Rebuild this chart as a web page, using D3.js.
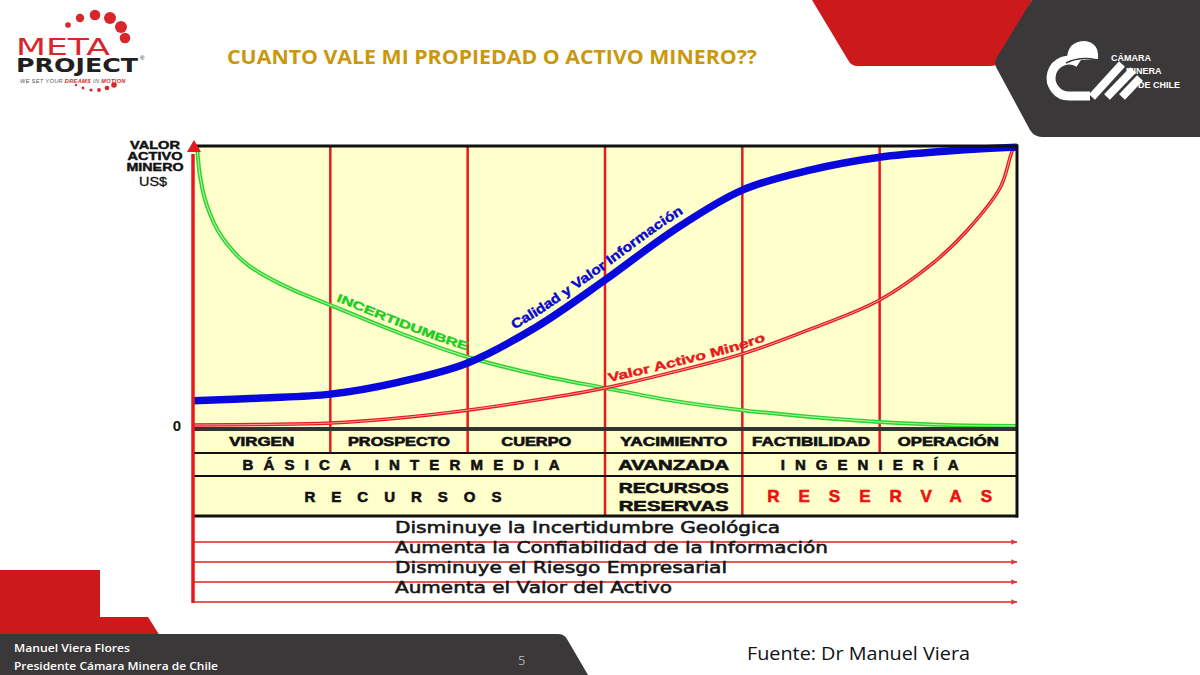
<!DOCTYPE html>
<html><head><meta charset="utf-8">
<script src="https://cdn.jsdelivr.net/npm/d3@7"></script>
<style>html,body{margin:0;padding:0;background:#fff}svg{display:block}</style>
</head><body>
<svg id="c" width="1200" height="675"></svg>
<script>
// ---------------- DATA ----------------
const title = "CUANTO VALE MI PROPIEDAD O ACTIVO MINERO??";
const stages = ["VIRGEN","PROSPECTO","CUERPO","YACIMIENTO","FACTIBILIDAD","OPERACIÓN"];
const yTicks = [0];
const yAxisTitle = ["VALOR","ACTIVO","MINERO"];
const yAxisUnit = "US$";
const row2Labels = [
  {text:"BÁSICA  INTERMEDIA", from:0, to:3, spaced:true},
  {text:"AVANZADA", from:3, to:4, spaced:false},
  {text:"INGENIERÍA", from:4, to:6, spaced:true}
];
const row3Labels = [
  {text:["RECURSOS"], from:0, to:3, spaced:true, red:false},
  {text:["RECURSOS","RESERVAS"], from:3, to:4, spaced:false, red:false},
  {text:["RESERVAS"], from:4, to:6, spaced:true, red:true}
];
const arrowTexts = [
  "Disminuye la Incertidumbre Geológica",
  "Aumenta la Confiabilidad de la Información",
  "Disminuye el Riesgo Empresarial",
  "Aumenta el Valor del Activo"
];
// series (x in stage units 0..6, y in 0..100 relative value)
const calidadX = [0,0.5,1,1.5,2,2.5,3,3.5,4,4.5,5,5.5,6];
const calidadY = [9.3,10.3,11.7,16,22.8,35.6,52.3,70,84.3,91.5,96,98.2,99.6];
const incertX  = [0.029,0.051,0.087,0.124,0.182,0.248,0.364,0.488,0.728,1,1.5,2,2.5,3,3.5,4,4.5,5,5.5,6];
const incertY  = [100,89.3,81.1,75.8,69.8,65.1,59.1,54.8,48.8,43.4,33.5,24.9,18.7,13.9,9.3,6,3.6,1.8,0.7,0.4];
const valorX   = [0,0.5,1,1.5,2,2.5,3,3.5,4,4.5,5,5.39,5.64,5.88,5.97,6];
const valorY   = [0.7,0.9,1.4,3.2,6,9.6,13.9,19.6,26,34.9,45.2,58.4,70.1,85.4,98.6,100];
const curveLabels = ["INCERTIDUMBRE","Calidad y Valor Información","Valor Activo Minero"];
const footerName = ["Manuel Viera Flores","Presidente Cámara Minera de Chile"];
const pageNumber = "5";
const source = "Fuente: Dr Manuel Viera";

// ---------------- LAYOUT ----------------
const svg = d3.select("#c");
const BOLD = "'Liberation Sans', Arial, sans-serif";
const x = d3.scaleLinear().domain([0,6]).range([193,1017]);
const y = d3.scaleLinear().domain([0,100]).range([427,146]);
const rows = {r1:[429,453], r2:[453,476], r3:[476,516]};
const arrowY = [542,562,582,602];

function fit(sel, w, adj){ sel.attr("textLength", w).attr("lengthAdjust", adj||"spacingAndGlyphs"); return sel; }

// ---------- decorative header ----------
svg.append("path").attr("d","M812,0 L1032,0 L1000,62 Q997,66 990,66 L858,66 Q851,66 848,60 Z").attr("fill","#cc1a1c");
svg.append("path").attr("d","M1032,0 L1200,0 L1200,137 L1042,137 Q1034,137 1030,130 L996,67 Q994,62 997,57 Z").attr("fill","#3b3839");
// Camara logo
const lg = svg.append("g").attr("fill","none").attr("stroke","#fff");
lg.append("path").attr("d","M1079,63 A18,18 0 1 0 1070,96 L1090,96").attr("stroke-width",9).attr("stroke-linecap","butt");
lg.append("path").attr("d","M1068,60 Q1068,42 1085,42 Q1098,44 1097,58 Z").attr("fill","#fff").attr("stroke-width",2);
lg.append("path").attr("d","M1066,63 Q1080,56 1097,60").attr("stroke","#3b3839").attr("stroke-width",1.5);
[[1092,97,1122,64],[1107,97,1133,70],[1122,97,1140,78]].forEach(b=>{
  lg.append("line").attr("x1",b[0]).attr("y1",b[1]).attr("x2",b[2]).attr("y2",b[3]).attr("stroke-width",8);
});
[["CÁMARA",1111,61],["MINERA",1126,74],["DE CHILE",1138,88]].forEach(t=>{
  svg.append("text").attr("x",t[1]).attr("y",t[2]).text(t[0]).attr("fill","#fff")
    .attr("font-family",BOLD).attr("font-weight","bold").attr("font-size",9);
});

// Meta Project logo
[[68,25,2.8],[80,18,4.2],[95,15,5.3],[110,18,6],[121,27,6],[125,38,5.3]].forEach(d=>
  svg.append("circle").attr("cx",d[0]).attr("cy",d[1]).attr("r",d[2]).attr("fill","#d8262b"));
[[76,85,1.2],[83,88,1.4],[91,90,1.6],[99,90,1.9],[107,88,2.3],[114,85,2.8]].forEach(d=>
  svg.append("circle").attr("cx",d[0]).attr("cy",d[1]).attr("r",d[2]).attr("fill","#d8262b"));
fit(svg.append("text").attr("x",16).attr("y",55).text("META").attr("fill","#d8262b")
  .attr("font-family","'DejaVu Sans', sans-serif").attr("font-size",23), 94);
fit(svg.append("text").attr("x",16).attr("y",72).text("PROJECT").attr("fill","#231f20")
  .attr("font-family","'DejaVu Sans', sans-serif").attr("font-weight","bold").attr("font-size",19), 122);
svg.append("text").attr("x",140).attr("y",60).text("®").attr("font-size",6).attr("fill","#231f20").attr("font-family",BOLD);
const tag = svg.append("text").attr("x",20).attr("y",82.5).attr("font-family",BOLD).attr("font-size",5.6).attr("font-style","italic").attr("letter-spacing",0.35);
[["WE SET YOUR ","#555",""],["DREAMS","#d8262b","bold"],[" IN ","#555",""],["MOTION","#d8262b","bold"]].forEach(p=>
  tag.append("tspan").text(p[0]).attr("fill",p[1]).attr("font-weight",p[2]||null));

// title
fit(svg.append("text").attr("x",227).attr("y",64).text(title).attr("fill","#c9980c")
  .attr("font-family","'Open Sans', sans-serif").attr("font-weight",700).attr("font-size",19), 530);

// footer decorations
svg.append("path").attr("d","M0,570 L100,570 L100,617 L148,617 L160,636 L0,636 Z").attr("fill","#cc1a1c");
svg.append("path").attr("d","M0,634 L558,634 Q564,634 567,639 L588,675 L0,675 Z").attr("fill","#3b3839");
svg.append("text").attr("x",14).attr("y",652).text(footerName[0]).attr("fill","#fff")
  .attr("font-family","'Open Sans', sans-serif").attr("font-weight",600).attr("font-size",11.5).call(s=>fit(s,116));
svg.append("text").attr("x",14).attr("y",670).text(footerName[1]).attr("fill","#fff")
  .attr("font-family","'Open Sans', sans-serif").attr("font-weight",600).attr("font-size",11.5).call(s=>fit(s,204));
svg.append("text").attr("x",518).attr("y",665).text(pageNumber).attr("fill","#aaa")
  .attr("font-family","'Open Sans', sans-serif").attr("font-size",13);
svg.append("text").attr("x",747).attr("y",660).text(source).attr("fill","#111")
  .attr("font-family","'Open Sans', sans-serif").attr("font-size",18).call(s=>fit(s,223));

// ---------- chart background ----------
svg.append("rect").attr("x",x(0)).attr("y",y(100)).attr("width",x(6)-x(0)).attr("height",rows.r3[1]-y(100)).attr("fill","#ffffcc");

// stage boundaries
const bounds = d3.range(1,6);
svg.selectAll("line.sb").data(bounds).join("line")
  .attr("x1",d=>x(d)).attr("x2",d=>x(d)).attr("y1",y(100))
  .attr("y2",d=> (d===3||d===4) ? rows.r3[1] : rows.r1[1])
  .attr("stroke","#e8191e").attr("stroke-width",2.5);

// ---------- curves ----------
const line = d3.line().x(d=>x(d[0])).y(d=>y(d[1])).curve(d3.curveCatmullRom.alpha(0.5));
const incert = incertX.map((v,i)=>[v,incertY[i]]);
const valor = valorX.map((v,i)=>[v,valorY[i]]);
const calidad = calidadX.map((v,i)=>[v,calidadY[i]]);
svg.append("path").attr("id","pInc").attr("d",line(incert)).attr("fill","none").attr("stroke","#2fd12f").attr("stroke-width",4);
svg.append("path").attr("d",line(incert)).attr("fill","none").attr("stroke","#a8f5a0").attr("stroke-width",1.1);
svg.append("path").attr("id","pVal").attr("d",line(valor)).attr("fill","none").attr("stroke","#e8191e").attr("stroke-width",3.5);
svg.append("path").attr("d",line(valor)).attr("fill","none").attr("stroke","#f6a0a0").attr("stroke-width",1);
svg.append("path").attr("id","pCal").attr("d",line(calidad)).attr("fill","none").attr("stroke","#0808dd").attr("stroke-width",7.5);

function lenAtX(node, px){
  let lo=0, hi=node.getTotalLength();
  for(let i=0;i<40;i++){ const m=(lo+hi)/2; if(node.getPointAtLength(m).x<px) lo=m; else hi=m; }
  return lo;
}
const labelCfg = [
  {path:"pInc", text:curveLabels[0], startX:334, dy:-6, size:11.5, w:140, color:"#22cc22"},
  {path:"pCal", text:curveLabels[1], startX:519, dy:-9, size:13.5, w:206, color:"#0808cc"},
  {path:"pVal", text:curveLabels[2], startX:610, dy:-5, size:12.5, w:163, color:"#e8191e"}
];
labelCfg.forEach(c=>{
  const node = document.getElementById(c.path);
  const off = lenAtX(node, c.startX);
  const t = svg.append("text").attr("font-family",BOLD).attr("font-weight","bold").attr("font-size",c.size)
     .attr("fill",c.color).attr("stroke",c.color).attr("stroke-width",0.4).attr("dy",c.dy);
  t.append("textPath").attr("href","#"+c.path).attr("startOffset",off).text(c.text)
     .attr("textLength",c.w).attr("lengthAdjust","spacingAndGlyphs");
});

// ---------- table ----------
const tbl = svg.append("g").attr("font-family",BOLD).attr("font-weight","bold").attr("stroke-width",0.6);
const r1w = [65,102,70,107,118,101];
tbl.selectAll("text.s1").data(stages).join("text")
  .attr("x",(d,i)=>x(i+0.5)-r1w[i]/2).attr("y",(rows.r1[0]+rows.r1[1])/2+4.5)
  .attr("font-size",12).attr("fill","#111").attr("stroke","#111")
  .text(d=>d).each(function(d,i){ fit(d3.select(this), r1w[i]); });

const r2w = {"BÁSICA  INTERMEDIA":317,"AVANZADA":111,"INGENIERÍA":178};
const r2c = {"BÁSICA  INTERMEDIA":x(1.5)+2,"AVANZADA":x(3.5),"INGENIERÍA":x(5)-10};
row2Labels.forEach(l=>{
  tbl.append("text").attr("x",r2c[l.text]-r2w[l.text]/2).attr("y",(rows.r2[0]+rows.r2[1])/2+5.5)
   .attr("font-size",l.spaced?15:14).attr("fill","#111").attr("stroke","#111").text(l.text)
   .call(s=>fit(s,r2w[l.text], l.spaced?"spacing":"spacingAndGlyphs"));
});
row3Labels.forEach(l=>{
  const cx = x((l.from+l.to)/2) + (l.from===0?4:0);
  if(l.text.length===1){
    const w = l.red ? 225 : 197;
    tbl.append("text").attr("x",cx-w/2).attr("y",(rows.r3[0]+rows.r3[1])/2+(l.red?6:5.5))
      .attr("font-size",l.red?17:15).attr("fill",l.red?"#ee1111":"#111").attr("stroke",l.red?"#ee1111":"#111")
      .text(l.text[0]).call(s=>fit(s,w,"spacing"));
  } else {
    l.text.forEach((t,k)=>{
      tbl.append("text").attr("x",cx-55).attr("y",rows.r3[0]+17+k*18)
        .attr("font-size",14).attr("fill","#111").attr("stroke","#111").text(t).call(s=>fit(s,110));
    });
  }
});

// horizontal table lines
[[y(100),3,"#111"],[rows.r1[0],4,"#333"],[rows.r1[1],2,"#111"],[rows.r2[1],2,"#111"],[rows.r3[1],3,"#111"]].forEach(h=>{
  svg.append("line").attr("x1",x(0)-1).attr("x2",x(6)+1).attr("y1",h[0]).attr("y2",h[0]).attr("stroke",h[2]).attr("stroke-width",h[1]);
});
svg.append("line").attr("x1",x(6)).attr("x2",x(6)).attr("y1",y(100)-1.5).attr("y2",rows.r3[1]+1.5).attr("stroke","#111").attr("stroke-width",3);

// ---------- arrows ----------
svg.append("defs").append("marker").attr("id","ah").attr("viewBox","0 0 10 10").attr("refX",10).attr("refY",5)
  .attr("markerWidth",4.5).attr("markerHeight",2.6).attr("markerUnits","strokeWidth").attr("orient","auto")
  .append("path").attr("d","M0,0 L10,5 L0,10 Z").attr("fill","#e33b3b");
svg.selectAll("line.ar").data(arrowY).join("line")
  .attr("x1",x(0)).attr("x2",x(6)).attr("y1",d=>d).attr("y2",d=>d)
  .attr("stroke","#e85a5a").attr("stroke-width",2.2).attr("marker-end","url(#ah)");
const atw = [385,433,332,277];
svg.selectAll("text.at").data(arrowTexts).join("text")
  .attr("x",395).attr("y",(d,i)=>arrowY[i]-9)
  .attr("font-family","'DejaVu Sans', sans-serif").attr("font-size",16)
  .attr("fill","#151515").attr("stroke","#151515").attr("stroke-width",0.55)
  .text(d=>d).each(function(d,i){ fit(d3.select(this),atw[i]); });

// ---------- left axis ----------
svg.append("line").attr("x1",x(0)).attr("x2",x(0)).attr("y1",y(100)+8).attr("y2",arrowY[3]+1)
  .attr("stroke","#e8191e").attr("stroke-width",3.5);
svg.append("path").attr("d",`M${x(0)+1},${y(100)-6} L${x(0)+8},${y(100)+6} L${x(0)-6},${y(100)+6} Z`).attr("fill","#e8191e");

const yAxis = d3.axisLeft(y).tickValues(yTicks).tickSize(0).tickPadding(12).tickFormat(d3.format("d"));
const ag = svg.append("g").attr("transform",`translate(${x(0)},0)`).call(yAxis);
ag.select(".domain").remove();
ag.selectAll("text").attr("font-family",BOLD).attr("font-weight","bold").attr("font-size",15).attr("fill","#111").attr("dy","0.2em");

const ytw=[50,55,57];
yAxisTitle.forEach((t,i)=>{
  svg.append("text").attr("x",155-ytw[i]/2).attr("y",148.5+i*11).text(t)
   .attr("font-family",BOLD).attr("font-weight","bold").attr("font-size",10).attr("fill","#111")
   .attr("stroke","#111").attr("stroke-width",0.4).call(s=>fit(s,ytw[i]));
});
svg.append("text").attr("x",139).attr("y",186).text(yAxisUnit)
  .attr("font-family",BOLD).attr("font-size",12.5).attr("fill","#111").attr("stroke","#111").attr("stroke-width",0.3).call(s=>fit(s,28));
</script>
</body></html>
